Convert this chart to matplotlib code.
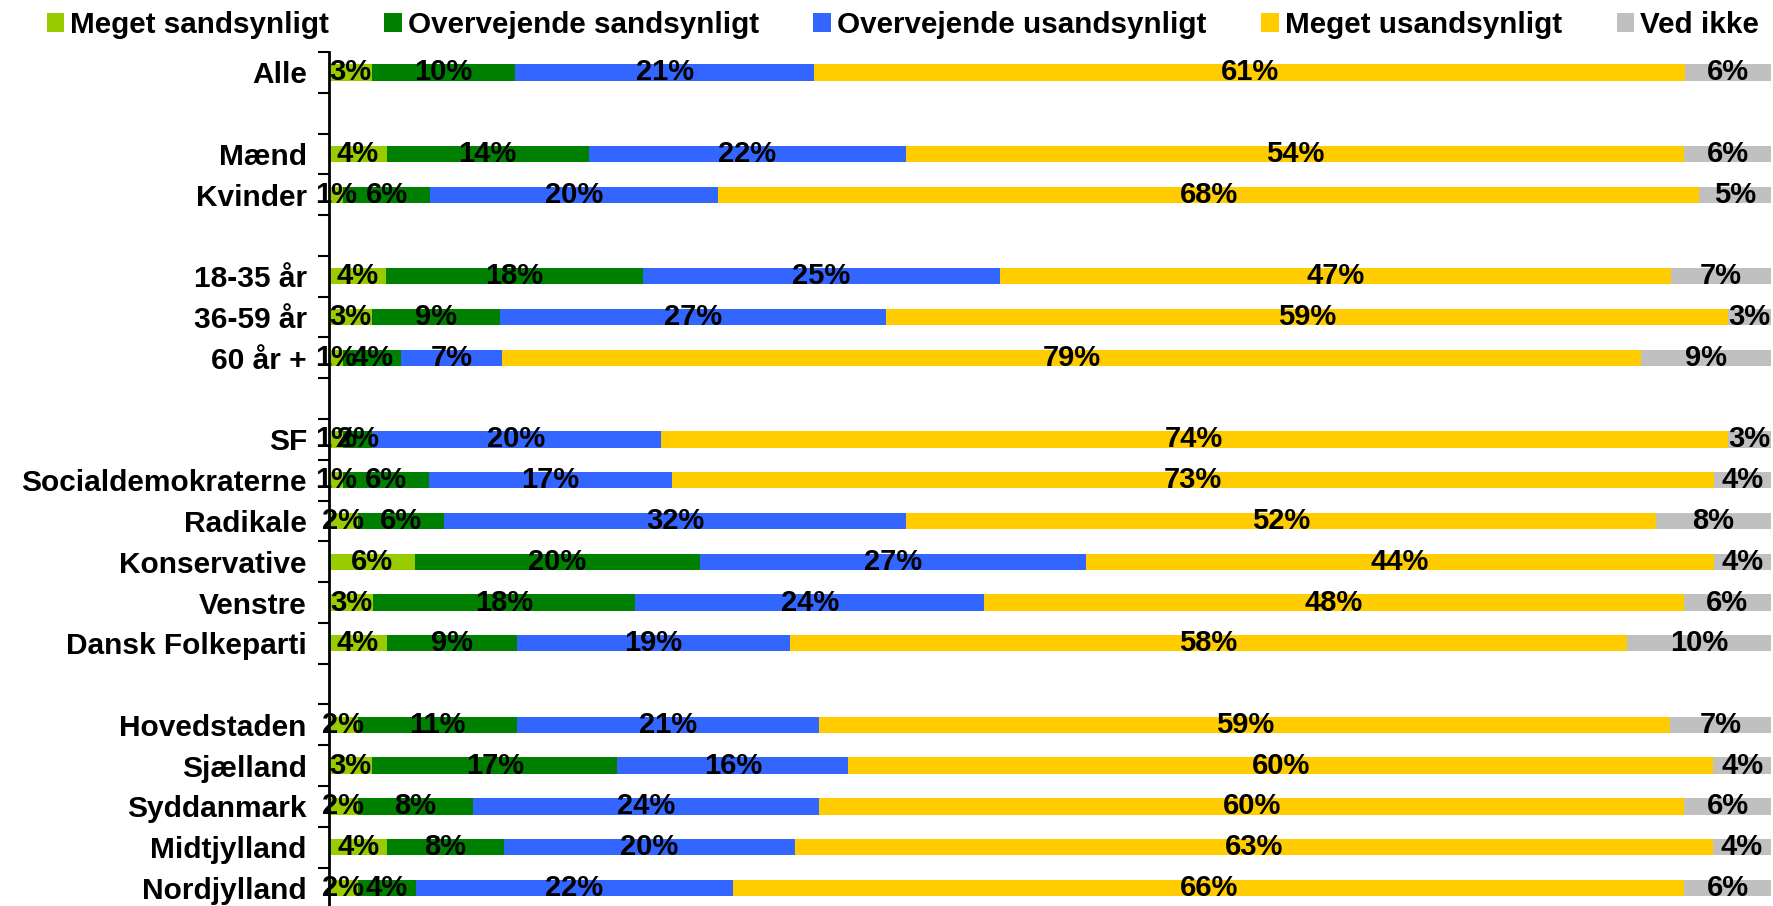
import matplotlib.pyplot as plt
from matplotlib.patches import Patch
import numpy as np

plt.rcParams['font.family'] = ['Liberation Sans', 'DejaVu Sans']
plt.rcParams['font.weight'] = 'bold'

# rows, blank strings are the gaps between groups
rows = ['Alle', '', 'Mænd', 'Kvinder', '', '18-35 år', '36-59 år', '60 år +', '',
        'SF', 'Socialdemokraterne', 'Radikale', 'Konservative', 'Venstre',
        'Dansk Folkeparti', '', 'Hovedstaden', 'Sjælland', 'Syddanmark',
        'Midtjylland', 'Nordjylland']

meget_sand = [3, None, 4, 1, None, 4, 3, 1, None, 1, 1, 2, 6, 3, 4, None, 2, 3, 2, 4, 2]
overv_sand = [10, None, 14, 6, None, 18, 9, 4, None, 2, 6, 6, 20, 18, 9, None, 11, 17, 8, 8, 4]
overv_usand = [21, None, 22, 20, None, 25, 27, 7, None, 20, 17, 32, 27, 24, 19, None, 21, 16, 24, 20, 22]
meget_usand = [61, None, 54, 68, None, 47, 59, 79, None, 74, 73, 52, 44, 48, 58, None, 59, 60, 60, 63, 66]
ved_ikke = [6, None, 6, 5, None, 7, 3, 9, None, 3, 4, 8, 4, 6, 10, None, 7, 4, 6, 4, 6]

series_names = ['Meget sandsynligt', 'Overvejende sandsynligt', 'Overvejende usandsynligt',
                'Meget usandsynligt', 'Ved ikke']
colors = ['#99CC00', '#008000', '#3366FF', '#FFCC00', '#C0C0C0']
all_series = [meget_sand, overv_sand, overv_usand, meget_usand, ved_ikke]

fig = plt.figure(figsize=(17.74, 9.06), dpi=100)
ax = fig.add_axes([0.1855, -0.0026, 0.9983 - 0.1855, 0.9452])

y = np.arange(len(rows))
for i in range(len(rows)):
    vals = [s[i] for s in all_series]
    if vals[0] is None:
        continue
    total = sum(vals)
    left = 0.0
    for v, c in zip(vals, colors):
        w = v / total * 100
        ax.barh(i, w, left=left, height=0.4, color=c, linewidth=0)
        ax.text(left + w / 2, i, f'{v}%', ha='center', va='center',
                fontsize=21, fontweight='bold', color='black')
        left += w

ax.set_xlim(0, 100)
ax.set_ylim(len(rows) - 0.5, -0.5)
ax.set_yticks(y)
ax.set_yticklabels(rows, fontsize=21.5, fontweight='bold')
ax.set_yticks(np.arange(len(rows) + 1) - 0.5, minor=True)
ax.tick_params(axis='y', which='major', length=0, pad=16)
ax.tick_params(axis='y', which='minor', length=8, width=1.5)
ax.set_xticks([])
for s in ['top', 'right', 'bottom']:
    ax.spines[s].set_visible(False)
ax.spines['left'].set_linewidth(2)

handles = [Patch(facecolor=c, edgecolor='none') for c in colors]
fig.legend(handles, series_names, loc='center', bbox_to_anchor=(0.509, 1 - 25 / 906),
           ncol=5, frameon=False, handlelength=0.6, handleheight=0.6,
           handletextpad=0.2, columnspacing=1.85, prop={'weight': 'bold', 'size': 21.3})

plt.savefig('out.png', dpi=100)
